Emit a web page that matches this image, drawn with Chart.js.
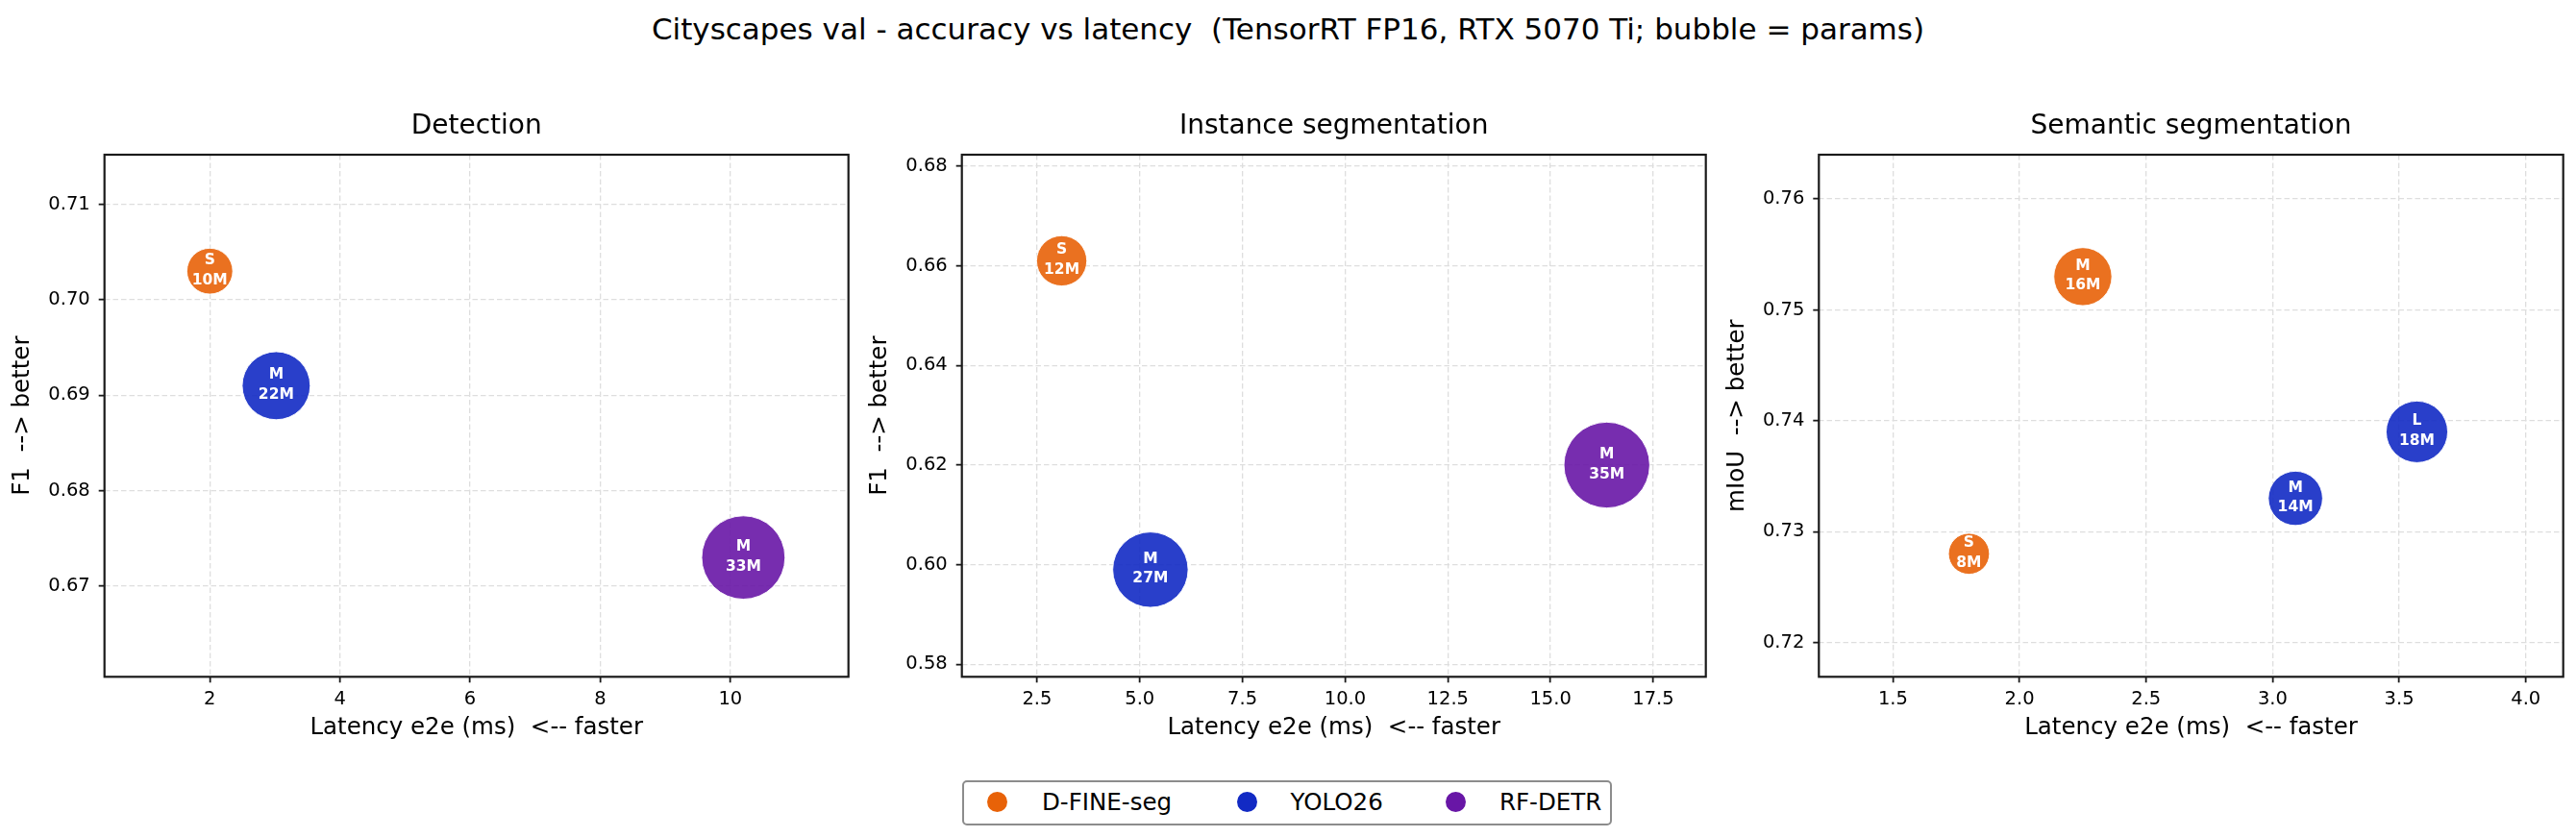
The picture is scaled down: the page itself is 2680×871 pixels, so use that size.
<!DOCTYPE html>
<html>
<head>
<meta charset="utf-8">
<title>Cityscapes val - accuracy vs latency</title>
<script src="https://cdn.jsdelivr.net/npm/chart.js@4/dist/chart.umd.min.js"></script>
<style>
  body { margin: 0; background: #fff; width: 2680px; height: 871px; position: relative; overflow: hidden; font-family: "DejaVu Sans", sans-serif; color: #000; }
  #suptitle { position: absolute; left: 0; top: 15px; width: 2680px; text-align: center; font-size: 31px; line-height: 31px; white-space: pre; }
  .panel { position: absolute; top: 100px; width: 890px; height: 690px; }
  #legend { position: absolute; left: 1001px; top: 812px; width: 672px; height: 43px; border: 2px solid #8c8c8c; border-radius: 5px; }
  .mark { position: absolute; width: 21px; height: 21px; border-radius: 50%; top: 824px; }
  .lab { position: absolute; top: 820px; font-size: 24.5px; line-height: 30px; white-space: pre; }
</style>
</head>
<body>
<div id="suptitle">Cityscapes val - accuracy vs latency  (TensorRT FP16, RTX 5070 Ti; bubble = params)</div>
<div class="panel" style="left:0px"><canvas id="det"></canvas></div>
<div class="panel" style="left:892px"><canvas id="inst"></canvas></div>
<div class="panel" style="left:1784px"><canvas id="sem"></canvas></div>
<div id="legend"></div>

<script>
// models / colours (rgb triplets, bubbles drawn at 0.9 alpha)
const models = ['D-FINE-seg', 'YOLO26', 'RF-DETR'];
const modelColors = ['232,98,8', '18,42,196', '104,22,166'];

// Detection
const detModel = [0, 1, 2];
const detLatency = [2.0, 3.02, 10.2];
const detF1 = [0.703, 0.691, 0.673];
const detSize = ['S', 'M', 'M'];
const detParams = [10, 22, 33];
const detXTicks = [2, 4, 6, 8, 10];
const detYTicks = [0.67, 0.68, 0.69, 0.70, 0.71];

// Instance segmentation
const instModel = [0, 1, 2];
const instLatency = [3.10, 5.26, 16.37];
const instF1 = [0.661, 0.599, 0.620];
const instSize = ['S', 'M', 'M'];
const instParams = [12, 27, 35];
const instXTicks = [2.5, 5.0, 7.5, 10.0, 12.5, 15.0, 17.5];
const instYTicks = [0.58, 0.60, 0.62, 0.64, 0.66, 0.68];

// Semantic segmentation
const semModel = [0, 0, 1, 1];
const semLatency = [1.80, 2.25, 3.09, 3.57];
const semMIoU = [0.728, 0.753, 0.733, 0.739];
const semSize = ['S', 'M', 'M', 'L'];
const semParams = [8, 16, 14, 18];
const semXTicks = [1.5, 2.0, 2.5, 3.0, 3.5, 4.0];
const semYTicks = [0.72, 0.73, 0.74, 0.75, 0.76];

Chart.defaults.font.family = '"DejaVu Sans", sans-serif';
Chart.defaults.color = '#000';

// bubble radius in px from params (area ~ params)
const radiusOf = p => 7.55 * Math.sqrt(p);

function buildDatasets(modelIdx, xs, ys, sizes, params) {
  const sets = [];
  models.forEach((name, m) => {
    const pts = [];
    xs.forEach((x, i) => {
      if (modelIdx[i] === m) pts.push({ x: x, y: ys[i], r: radiusOf(params[i]), size: sizes[i], params: params[i] });
    });
    if (pts.length) {
      sets.push({
        label: name,
        data: pts,
        backgroundColor: 'rgba(' + modelColors[m] + ',0.9)',
        borderColor: 'rgba(255,255,255,0.9)',
        borderWidth: 1
      });
    }
  });
  return sets;
}

const bubbleLabels = {
  id: 'bubbleLabels',
  afterDatasetsDraw(chart) {
    const ctx = chart.ctx;
    ctx.save();
    ctx.fillStyle = '#fff';
    ctx.font = 'bold 15.5px "DejaVu Sans"';
    ctx.textAlign = 'center';
    ctx.textBaseline = 'middle';
    chart.data.datasets.forEach((ds, di) => {
      chart.getDatasetMeta(di).data.forEach((el, i) => {
        const raw = ds.data[i];
        ctx.fillText(raw.size, el.x, el.y - 11);
        ctx.fillText(raw.params + 'M', el.x, el.y + 9.5);
      });
    });
    ctx.restore();
  }
};

const frame = {
  id: 'frame',
  afterDraw(chart) {
    const { ctx, chartArea: a } = chart;
    ctx.save();
    ctx.strokeStyle = '#1a1a1a';
    ctx.lineWidth = 2.2;
    ctx.strokeRect(a.left, a.top, a.right - a.left, a.bottom - a.top);
    ctx.restore();
  }
};

function makeChart(id, cfg) {
  const gridOpts = { color: '#dedede', lineWidth: 1.3, tickColor: '#1a1a1a', tickLength: 6, tickWidth: 1.8 };
  new Chart(document.getElementById(id), {
    type: 'bubble',
    data: { datasets: cfg.datasets },
    options: {
      responsive: true,
      maintainAspectRatio: false,
      animation: false,
      events: [],
      layout: { autoPadding: false, padding: { left: 0, right: 7.3, top: 0, bottom: 0 } },
      plugins: {
        legend: { display: false },
        tooltip: { enabled: false },
        title: {
          display: true, fullSize: false, text: cfg.title, color: '#000',
          font: { size: 28, weight: 'normal' }, padding: { top: 15.2, bottom: 12.2 }
        }
      },
      scales: {
        x: {
          type: 'linear', bounds: 'data', min: cfg.xMin, max: cfg.xMax,
          afterBuildTicks: s => { s.ticks = cfg.xTicks.map(v => ({ value: v })); },
          afterFit: s => { s.height = 85.7; },
          ticks: { callback: v => v.toFixed(cfg.xDec), font: { size: 19.5 }, padding: 6, maxRotation: 0, autoSkip: false },
          grid: gridOpts,
          border: { display: false, dash: [5.5, 3] },
          title: { display: true, text: 'Latency e2e (ms)  <-- faster', font: { size: 24.5 }, padding: { top: 0, bottom: 18.1 } }
        },
        y: {
          type: 'linear', bounds: 'data', min: cfg.yMin, max: cfg.yMax,
          afterBuildTicks: s => { s.ticks = cfg.yTicks.map(v => ({ value: v })); },
          afterFit: s => { s.width = cfg.yW; },
          ticks: { callback: v => v.toFixed(2), font: { size: 19.5 }, padding: 9, autoSkip: false },
          grid: gridOpts,
          border: { display: false, dash: [5.5, 3] },
          title: { display: true, text: cfg.yLabel, font: { size: 24.5 }, padding: { top: 9.4, bottom: 0 } }
        }
      }
    },
    plugins: [bubbleLabels, frame]
  });
}

makeChart('det', {
  title: 'Detection', yLabel: 'F1  --> better', yW: 108.7,
  datasets: buildDatasets(detModel, detLatency, detF1, detSize, detParams),
  xMin: 0.381, xMax: 11.815, xTicks: detXTicks, xDec: 0,
  yMin: 0.6605, yMax: 0.7152, yTicks: detYTicks
});

makeChart('inst', {
  title: 'Instance segmentation', yLabel: 'F1  --> better', yW: 108.7,
  datasets: buildDatasets(instModel, instLatency, instF1, instSize, instParams),
  xMin: 0.67, xMax: 18.78, xTicks: instXTicks, xDec: 1,
  yMin: 0.5775, yMax: 0.6823, yTicks: instYTicks
});

makeChart('sem', {
  title: 'Semantic segmentation', yLabel: 'mIoU  --> better', yW: 108.3,
  datasets: buildDatasets(semModel, semLatency, semMIoU, semSize, semParams),
  xMin: 1.207, xMax: 4.148, xTicks: semXTicks, xDec: 1,
  yMin: 0.7169, yMax: 0.764, yTicks: semYTicks
});

// legend below the panels
const markX = [1037.7, 1297, 1514];
const labX = [1084, 1342.6, 1560];
models.forEach((name, m) => {
  const dot = document.createElement('div');
  dot.className = 'mark';
  dot.style.left = (markX[m] - 10.5) + 'px';
  dot.style.background = 'rgb(' + modelColors[m] + ')';
  document.body.appendChild(dot);
  const t = document.createElement('div');
  t.className = 'lab';
  t.style.left = labX[m] + 'px';
  t.textContent = name;
  document.body.appendChild(t);
});
</script>
</body>
</html>
